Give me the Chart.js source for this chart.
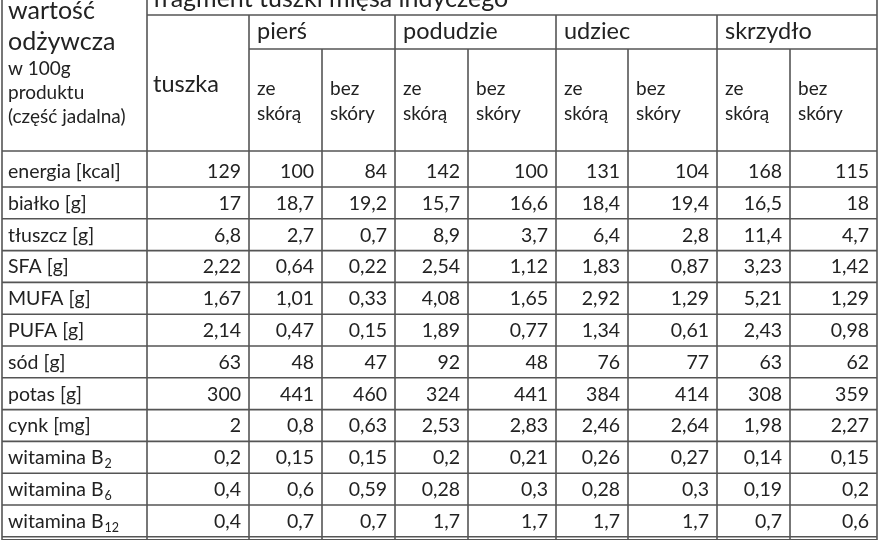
<!DOCTYPE html>
<html><head><meta charset="utf-8">
<script src="https://cdn.jsdelivr.net/npm/chart.js@4"></script>
<style>html,body{margin:0;padding:0;background:#fff}#w{width:880px;height:540px}</style>
</head><body><div id="w"><canvas id="c"></canvas></div>
<script>
const rowLabels=["energia [kcal]","białko [g]","tłuszcz [g]","SFA [g]","MUFA [g]","PUFA [g]","sód [g]","potas [g]","cynk [mg]","witamina B|2","witamina B|6","witamina B|12"];
const tuszka=["129","17","6,8","2,22","1,67","2,14","63","300","2","0,2","0,4","0,4"];
const piersZe=["100","18,7","2,7","0,64","1,01","0,47","48","441","0,8","0,15","0,6","0,7"];
const piersBez=["84","19,2","0,7","0,22","0,33","0,15","47","460","0,63","0,15","0,59","0,7"];
const podudzieZe=["142","15,7","8,9","2,54","4,08","1,89","92","324","2,53","0,2","0,28","1,7"];
const podudzieBez=["100","16,6","3,7","1,12","1,65","0,77","48","441","2,83","0,21","0,3","1,7"];
const udziecZe=["131","18,4","6,4","1,83","2,92","1,34","76","384","2,46","0,26","0,28","1,7"];
const udziecBez=["104","19,4","2,8","0,87","1,29","0,61","77","414","2,64","0,27","0,3","1,7"];
const skrzydloZe=["168","16,5","11,4","3,23","5,21","2,43","63","308","1,98","0,14","0,19","0,7"];
const skrzydloBez=["115","18","4,7","1,42","1,29","0,98","62","359","2,27","0,15","0,2","0,6"];
const groups=["pierś","podudzie","udziec","skrzydło"];
const columns=[tuszka,piersZe,piersBez,podudzieZe,podudzieBez,udziecZe,udziecBez,skrzydloZe,skrzydloBez];

// layout
const colEdges=[2,147,249,322,395,468,556,628,717,790,877];
const headTop=15, groupBottom=49, headBottom=151, rowH=31.8, firstRowBottom=187;
const rowEdges=[headBottom]; for(let i=0;i<rowLabels.length;i++) rowEdges.push(firstRowBottom+i*rowH);
const F='Lato, "Open Sans", sans-serif', ink='#222';

const datasets=columns.map((col,ci)=>({data:col.map((v,ri)=>({x:(colEdges[ci+1]+colEdges[ci+2])/2,y:(rowEdges[ri]+rowEdges[ri+1])/2,v})),pointRadius:0}));

const tablePlugin={id:'table',afterDatasetsDraw(chart){
 const {ctx,scales:{x,y}}=chart; const X=v=>x.getPixelForValue(v), Y=v=>y.getPixelForValue(v);
 ctx.save(); ctx.strokeStyle='#555'; ctx.lineWidth=1.6;
 const L=(x1,y1,x2,y2)=>{ctx.beginPath();ctx.moveTo(X(x1),Y(y1));ctx.lineTo(X(x2),Y(y2));ctx.stroke();};
 const last=rowEdges[rowEdges.length-1];
 L(colEdges[1],headTop,colEdges[10],headTop);
 L(colEdges[2],groupBottom,colEdges[10],groupBottom);
 rowEdges.forEach(r=>L(colEdges[0],r,colEdges[10],r));
 L(colEdges[0],0,colEdges[0],540); L(colEdges[10],0,colEdges[10],540);
 L(colEdges[1],0,colEdges[1],540);
 [2,4,6,8].forEach(i=>L(colEdges[i],headTop,colEdges[i],540));
 [3,5,7,9].forEach(i=>L(colEdges[i],groupBottom,colEdges[i],540));
 L(colEdges[0],last+3,colEdges[10],last+3);
 ctx.fillStyle=ink; ctx.textBaseline='alphabetic';
 const T=(s,px,py,size,al)=>{ctx.font=size+'px '+F;ctx.textAlign=al||'left';ctx.fillText(s,X(px),Y(py));};
 T("fragment tuszki mięsa indyczego",153,7,25);
 T("wartość",8,19,25); T("odżywcza",8,50,25);
 T("w 100g",8,75,19); T("produktu",8,99,19); T("(część jadalna)",8,123,19);
 T("tuszka",153,92,23.5);
 groups.forEach((g,i)=>T(g,colEdges[2+2*i]+8,39,23.5));
 for(let c=2;c<10;c++){const ze=(c%2===0);T(ze?"ze":"bez",colEdges[c]+8,95,19);T(ze?"skórą":"skóry",colEdges[c]+8,120,19);}
 rowLabels.forEach((lab,ri)=>{const by=rowEdges[ri+1]-9;const [a,s]=lab.split('|');T(a,8,by,19.5);
   if(s){ctx.font='19.5px '+F;const w=ctx.measureText(a).width;ctx.font='12.5px '+F;ctx.textAlign='left';ctx.fillText(s,X(8)+w+1,Y(by+4));}});
 chart.data.datasets.forEach((ds,ci)=>ds.data.forEach((p,ri)=>T(p.v,colEdges[ci+2]-8,rowEdges[ri+1]-9,19.5,'right')));
 ctx.restore();}};

new Chart(document.getElementById('c'),{type:'scatter',data:{datasets},
 options:{responsive:true,maintainAspectRatio:false,animation:false,layout:{padding:0},
  plugins:{legend:{display:false},tooltip:{enabled:false}},
  scales:{x:{type:'linear',min:0,max:880,display:false},y:{type:'linear',min:0,max:540,reverse:true,display:false}}},
 plugins:[tablePlugin]});
</script></body></html>
